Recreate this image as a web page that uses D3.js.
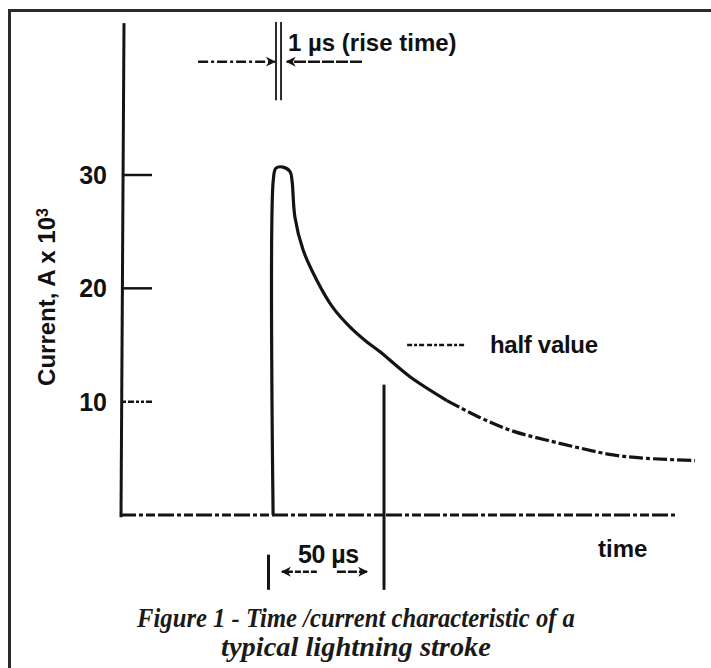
<!DOCTYPE html>
<html>
<head>
<meta charset="utf-8">
<script src="https://cdn.jsdelivr.net/npm/d3@7"></script>
<style>
  body { margin: 0; background: #fff; }
  svg { display: block; }
  .lbl { font-family: "Liberation Sans", Arial, sans-serif; font-weight: bold; fill: #111; }
</style>
</head>
<body>
<svg id="chart" width="711" height="668"></svg>
<script>
// stroke waveform, time in microseconds from start of rise, current in kA
var strokeTime    = [-0.4, -0.3, 0.9, 4.1, 7.3, 8.2, 9.5, 13.2, 19.5, 26.8, 34.5, 41.4, 48.2, 61.8, 78.6, 93.6, 108.6, 124.1, 139.1, 154.1, 169.5, 191.4];
var strokeCurrent = [0, 29.6, 30.6, 30.7, 30.3, 29.5, 26.3, 23.4, 20.7, 18.3, 16.6, 15.4, 14.4, 12.2, 10.1, 8.6, 7.4, 6.6, 5.9, 5.3, 5.0, 4.8];
var yTicks = [10, 20, 30];
var riseTime = 1;      // us
var halfTime = 50;     // us, time to half value
var captionLines = ["Figure 1 - Time /current characteristic of a", "typical lightning stroke"];

var svg = d3.select("#chart");
var ink = "#141414";

var x = d3.scaleLinear().domain([-70, 190]).range([120, 692]);
var y = d3.scaleLinear().domain([0, 30]).range([515, 175]);

// frame
svg.append("path")
  .attr("d", "M9.5,668 V10.5 H711")
  .attr("fill", "none")
  .attr("stroke", "#2b2b2b")
  .attr("stroke-width", 3);

var defs = svg.append("defs");
defs.append("marker")
  .attr("id", "arr")
  .attr("viewBox", "0 0 10 10")
  .attr("refX", 9).attr("refY", 5)
  .attr("markerWidth", 4).attr("markerHeight", 4)
  .attr("orient", "auto-start-reverse")
  .append("path")
  .attr("d", "M0,0 L10,5 L0,10 L3,5 z")
  .attr("fill", ink);

var g = svg.append("g");

// y axis
g.append("line")
  .attr("x1", 124).attr("x2", 121)
  .attr("y1", y(43.4)).attr("y2", y(-0.2))
  .attr("stroke", ink).attr("stroke-width", 3);

// x axis, dash-dot
g.append("line")
  .attr("x1", 120).attr("x2", x(183.2))
  .attr("y1", y(0)).attr("y2", y(0))
  .attr("stroke", ink).attr("stroke-width", 3)
  .attr("stroke-dasharray", "16 3 4 3 9 3");

// ticks
g.selectAll(".tick")
  .data(yTicks)
  .enter().append("line")
  .attr("x1", 123).attr("x2", 152)
  .attr("y1", function(d) { return y(d); })
  .attr("y2", function(d) { return y(d); })
  .attr("stroke", ink).attr("stroke-width", 2.5)
  .attr("stroke-dasharray", function(d) { return d == 10 ? "3 2 6 2 3 2" : null; });

g.selectAll(".tl")
  .data(yTicks)
  .enter().append("text")
  .attr("class", "lbl")
  .attr("x", 107)
  .attr("y", function(d) { return y(d); })
  .attr("dy", "0.36em")
  .attr("text-anchor", "end")
  .style("font-size", "25px")
  .text(function(d) { return d; });

// y label
var yl = g.append("text")
  .attr("class", "lbl")
  .attr("transform", "translate(55,297) rotate(-90)")
  .attr("text-anchor", "middle")
  .style("font-size", "24px");
yl.append("tspan").text("Current, A x 10");
yl.append("tspan").attr("dy", "-0.45em").style("font-size", "16px").text("3");

// waveform: solid head, dash-dot tail
var pts = strokeTime.map(function(t, i) { return {t: t, c: strokeCurrent[i]}; });
var line = d3.line()
  .x(function(d) { return x(d.t); })
  .y(function(d) { return y(d.c); })
  .curve(d3.curveCatmullRom.alpha(0.5));

g.append("path")
  .datum(pts.slice(0, 15))
  .attr("d", line)
  .attr("fill", "none")
  .attr("stroke", ink).attr("stroke-width", 3.2)
  .attr("stroke-linejoin", "round");

g.append("path")
  .datum(pts.slice(14))
  .attr("d", line)
  .attr("fill", "none")
  .attr("stroke", ink).attr("stroke-width", 3.2)
  .attr("stroke-dasharray", "14 3 4 3");

// rise time double line
[0.9, 3.2].forEach(function(t) {
  g.append("line")
    .attr("x1", x(t)).attr("x2", x(t))
    .attr("y1", y(43.5)).attr("y2", y(36.6))
    .attr("stroke", ink).attr("stroke-width", 1.8);
});

function arrow(t1, c1, t2, c2, dash) {
  g.append("line")
    .attr("x1", x(t1)).attr("y1", y(c1))
    .attr("x2", x(t2)).attr("y2", y(c2))
    .attr("stroke", ink).attr("stroke-width", 2.5)
    .attr("stroke-dasharray", dash)
    .attr("marker-end", "url(#arr)");
}
arrow(-34.5, 40, riseTime - 0.6, 40, "10 3 3 3");
arrow(40, 40, riseTime + 4.8, 40, "12 2");

g.append("text")
  .attr("class", "lbl")
  .attr("x", 288).attr("y", 51)
  .style("font-size", "24px")
  .text("1 µs (rise time)");

// half value marker
g.append("line")
  .attr("x1", x(halfTime)).attr("x2", x(halfTime))
  .attr("y1", y(11.5)).attr("y2", y(-6.6))
  .attr("stroke", ink).attr("stroke-width", 3);

g.append("line")
  .attr("x1", x(60.5)).attr("x2", x(86.8))
  .attr("y1", y(15)).attr("y2", y(15))
  .attr("stroke", ink).attr("stroke-width", 2.5)
  .attr("stroke-dasharray", "5 2 3 2 5 3");

g.append("text")
  .attr("class", "lbl")
  .attr("x", 490).attr("y", 353)
  .style("font-size", "24px")
  .style("letter-spacing", "-0.3px")
  .text("half value");

// 50 us span
g.append("line")
  .attr("x1", x(-2.5)).attr("x2", x(-2.5))
  .attr("y1", y(-3.5)).attr("y2", y(-6.6))
  .attr("stroke", ink).attr("stroke-width", 3);

arrow(19.5, -5, 3.6, -5, "6 2");
arrow(28.6, -5, 42.3, -5, "9 2");

g.append("text")
  .attr("class", "lbl")
  .attr("x", 298).attr("y", 563)
  .style("font-size", "25px")
  .style("letter-spacing", "-0.5px")
  .text("50 µs");

g.append("text")
  .attr("class", "lbl")
  .attr("x", 598).attr("y", 557)
  .style("font-size", "24px")
  .text("time");

// caption, condensed bold italic serif
var capWidth = [438, 270];
var cap = g.selectAll(".cap")
  .data(captionLines)
  .enter().append("text")
  .attr("text-anchor", "middle")
  .style("font-family", "'Liberation Serif', 'Times New Roman', serif")
  .style("font-weight", "bold")
  .style("font-style", "italic")
  .style("font-size", "27px")
  .style("fill", "#1a1a1a")
  .text(function(d) { return d; });

cap.attr("transform", function(d, i) {
  var k = capWidth[i] / this.getComputedTextLength();
  return "translate(356," + (627 + i * 29) + ") scale(" + k + ",1)";
});
</script>
</body>
</html>
